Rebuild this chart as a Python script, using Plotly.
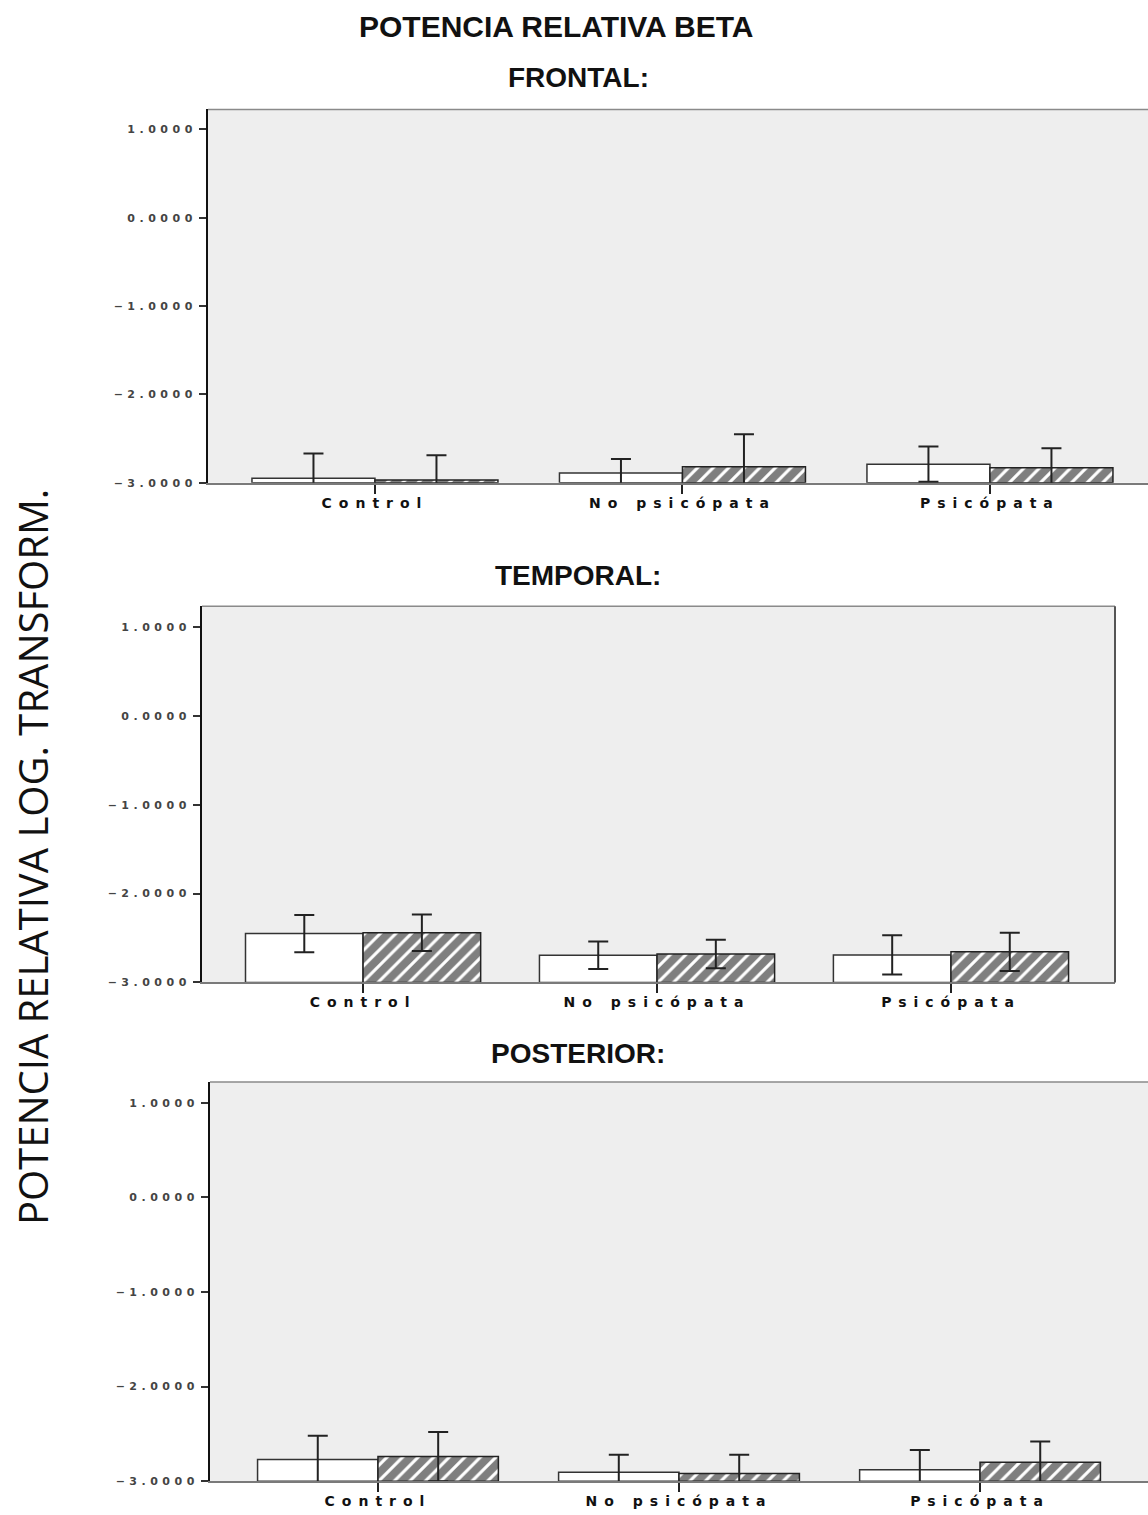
import plotly.graph_objects as go

# Groups on the category axis
categories = ["Control", "No psicópata", "Psicópata"]

# Log-transformed relative beta power: means and error half-widths per region
frontal_open = [-2.95, -2.89, -2.79]
frontal_open_err = [0.28, 0.16, 0.20]
frontal_hatch = [-2.97, -2.82, -2.83]
frontal_hatch_err = [0.28, 0.37, 0.22]

temporal_open = [-2.45, -2.695, -2.69]
temporal_open_err = [0.21, 0.155, 0.22]
temporal_hatch = [-2.44, -2.68, -2.655]
temporal_hatch_err = [0.205, 0.16, 0.215]

posterior_open = [-2.77, -2.905, -2.88]
posterior_open_err = [0.25, 0.185, 0.21]
posterior_hatch = [-2.74, -2.92, -2.80]
posterior_hatch_err = [0.26, 0.20, 0.22]

y_ticks = [1, 0, -1, -2, -3]
BASE = -3.0

W, H = 1148, 1515


def px_x(p):
    return p / W


def px_y(p):
    return 1 - p / H


panels = [
    # (title, open, open_err, hatch, hatch_err, x domain px, y domain px, x range, y top, title y)
    ("FRONTAL:", frontal_open, frontal_open_err, frontal_hatch, frontal_hatch_err,
     (208, 1148), (110, 485), (-0.543, 2.514), 1.225, 78),
    ("TEMPORAL:", temporal_open, temporal_open_err, temporal_hatch, temporal_hatch_err,
     (202, 1115), (609, 987), (-0.548, 2.558), 1.235, 578),
    ("POSTERIOR:", posterior_open, posterior_open_err, posterior_hatch, posterior_hatch_err,
     (210, 1148), (1087, 1488), (-0.558, 2.558), 1.221, 1058),
]

fig = go.Figure()
shapes = []
annotations = []
xpos = list(range(len(categories)))

for i, (title, op, op_err, ht, ht_err, xd, yd, xr, ytop, title_y) in enumerate(panels):
    n = "" if i == 0 else str(i + 1)
    xa, ya = "x" + n, "y" + n
    fig.add_trace(go.Bar(
        x=xpos, y=[v - BASE for v in op], base=BASE,
        marker=dict(color="white", line=dict(color="#333333", width=1.5)),
        error_y=dict(type="data", array=op_err, visible=True, color="#222222",
                     thickness=2, width=10),
        xaxis=xa, yaxis=ya, showlegend=False, offsetgroup="a",
    ))
    fig.add_trace(go.Bar(
        x=xpos, y=[v - BASE for v in ht], base=BASE,
        marker=dict(color="white", line=dict(color="#222222", width=1.5),
                    pattern=dict(shape="/", fgcolor="#000000", bgcolor="white",
                                 size=11, solidity=0.72)),
        error_y=dict(type="data", array=ht_err, visible=True, color="#222222",
                     thickness=2, width=10),
        xaxis=xa, yaxis=ya, showlegend=False, offsetgroup="b",
    ))

    xkey = "xaxis" + n
    ykey = "yaxis" + n
    fig.update_layout(**{
        xkey: dict(
            domain=[px_x(xd[0]), px_x(xd[1])], range=list(xr), anchor=ya,
            tickvals=xpos, ticktext=categories, ticks="outside", ticklen=9,
            tickwidth=1.5, tickcolor="#222222", showgrid=False, zeroline=False,
            showline=True, linecolor="#7a7a7a", linewidth=2,
            ticklabelstandoff=-3,
            tickfont=dict(family="DejaVu Sans", size=14, color="#111111",
                          weight="bold"),
            fixedrange=True,
        ),
        ykey: dict(
            domain=[px_y(yd[1]), px_y(yd[0])], range=[BASE, ytop], anchor=xa,
            tickvals=y_ticks, tickformat=".4f", ticks="outside", ticklen=7,
            tickwidth=1.5, tickcolor="#333333", showgrid=False, zeroline=False,
            showline=True, linecolor="#111111", linewidth=2,
            tickfont=dict(family="DejaVu Sans", size=11, color="#444444",
                          weight="bold"),
            fixedrange=True,
        ),
    })

    # top border of the plotting frame
    shapes.append(dict(type="line", xref=xa + " domain", yref=ya + " domain",
                       x0=0, x1=1, y0=1, y1=1, line=dict(color="#8a8a8a", width=1.5)))
    if xd[1] < W:
        shapes.append(dict(type="line", xref=xa + " domain", yref=ya + " domain",
                           x0=1, x1=1, y0=0, y1=1, line=dict(color="#555555", width=2)))

    annotations.append(dict(
        text=title, x=px_x(578), y=px_y(title_y), xref="paper", yref="paper",
        xanchor="center", yanchor="middle", showarrow=False,
        font=dict(family="Liberation Sans, Arial", size=28, color="#111111", weight="bold"),
    ))

annotations.append(dict(
    text="POTENCIA RELATIVA BETA", x=px_x(556), y=px_y(27), xref="paper", yref="paper",
    xanchor="center", yanchor="middle", showarrow=False,
    font=dict(family="Liberation Sans, Arial", size=30, color="#111111", weight="bold"),
))
annotations.append(dict(
    text="POTENCIA RELATIVA LOG. TRANSFORM.", x=px_x(32), y=px_y(861),
    xref="paper", yref="paper", xanchor="center", yanchor="middle", showarrow=False,
    textangle=-90,
    font=dict(family="Open Sans", size=40, color="#111111"),
))

fig.update_layout(
    width=W, height=H, margin=dict(l=0, r=0, t=0, b=0),
    paper_bgcolor="white", plot_bgcolor="#eeeeee",
    barmode="group", bargap=0.2, bargroupgap=0,
    shapes=shapes, annotations=annotations,
)

# widen the tick labels' letter spacing
post = """
var s = document.createElement('style');
s.textContent = '.xtick text, .x2tick text, .x3tick text {letter-spacing: 7px;}'
  + ' .ytick text, .y2tick text, .y3tick text {letter-spacing: 4.5px;}';
document.head.appendChild(s);
"""
fig.write_html("out.html", post_script=post)
